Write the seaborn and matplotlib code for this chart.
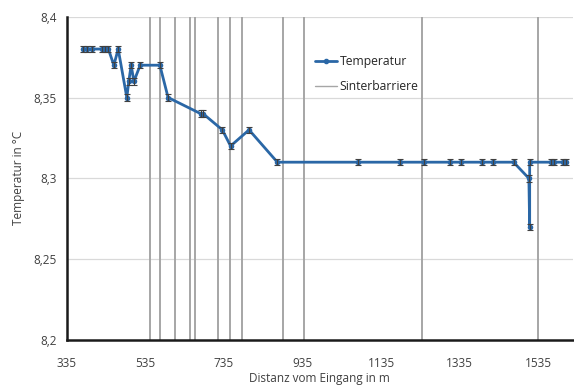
import matplotlib
matplotlib.use("Agg")
import matplotlib.pyplot as plt
import seaborn as sns
import pandas as pd
from matplotlib.lines import Line2D

# Data
distanz = [376, 386, 399, 426, 432, 441, 455, 466, 488, 493, 499, 506, 522, 572, 593,
           676, 682, 731, 752, 799, 871, 1076, 1182, 1244, 1310, 1339, 1392, 1420,
           1472, 1511, 1513, 1513, 1568, 1576, 1598, 1605]
temperatur = [8.38, 8.38, 8.38, 8.38, 8.38, 8.38, 8.37, 8.38, 8.35, 8.36, 8.37, 8.36,
              8.37, 8.37, 8.35, 8.34, 8.34, 8.33, 8.32, 8.33, 8.31, 8.31, 8.31, 8.31,
              8.31, 8.31, 8.31, 8.31, 8.31, 8.30, 8.27, 8.31, 8.31, 8.31, 8.31, 8.31]
fehler = 0.002
sinterbarrieren = [547, 573, 610, 648, 661, 720, 750, 780, 886, 938, 1240, 1534]
x_ticks = [335, 535, 735, 935, 1135, 1335, 1535]
y_ticks = [8.2, 8.25, 8.3, 8.35, 8.4]
y_ticklabels = ["8,2", "8,25", "8,3", "8,35", "8,4"]

sns.set_theme(style="white")
plt.rcParams['font.family'] = ['Open Sans', 'DejaVu Sans']

df = pd.DataFrame({"Distanz": distanz, "Temperatur": temperatur})

fig = plt.figure(figsize=(5.74, 3.85), dpi=100)
ax = fig.add_axes([0.1162, 0.1169, 0.8812, 0.8397])

blue = "#2A67A6"
grey = "#A6A6A6"

for y in y_ticks[1:]:
    ax.axhline(y, color="#D9D9D9", lw=0.9, zorder=0)

for xb in sinterbarrieren:
    ax.axvline(xb, color=grey, lw=1.4, zorder=1)

sns.lineplot(data=df, x="Distanz", y="Temperatur", sort=False, estimator=None,
             color=blue, lw=2.0, marker="o", markersize=4, markeredgewidth=0,
             ax=ax, zorder=3)
ax.errorbar(distanz, temperatur, yerr=fehler, fmt="none", ecolor="#404040",
            elinewidth=0.8, capsize=2, capthick=0.8, zorder=4)

ax.set_xlim(335, 1622)
ax.set_ylim(8.2, 8.4)
ax.set_xticks(x_ticks)
ax.set_xticklabels([str(t) for t in x_ticks])
ax.set_yticks(y_ticks)
ax.set_yticklabels(y_ticklabels)
ax.tick_params(axis="both", labelsize=8.5, colors="#404040", length=4,
               direction="out", width=1)
ax.tick_params(axis="x", pad=8)
ax.tick_params(axis="y", pad=3)
for lab in ax.get_xticklabels() + ax.get_yticklabels():
    lab.set_color("#404040")

for s in ["top", "right"]:
    ax.spines[s].set_visible(False)
for s in ["left", "bottom"]:
    ax.spines[s].set_color("#1a1a1a")
    ax.spines[s].set_linewidth(1.8)

ax.set_xlabel("Distanz vom Eingang in m", fontsize=8.5, color="#404040", labelpad=2)
ax.set_ylabel("Temperatur in °C", fontsize=8.5, color="#404040", labelpad=6)

handles = [Line2D([0], [0], color=blue, lw=2, marker="o", markersize=3),
           Line2D([0], [0], color=grey, lw=1)]
leg = ax.legend(handles, ["Temperatur", "Sinterbarriere"], loc="upper left",
                bbox_to_anchor=(0.47, 0.915), frameon=False, fontsize=8.7,
                handlelength=1.8, handletextpad=0.2, labelspacing=1.0)
for t in leg.get_texts():
    t.set_color("#262626")

fig.savefig("out.png", dpi=100)
